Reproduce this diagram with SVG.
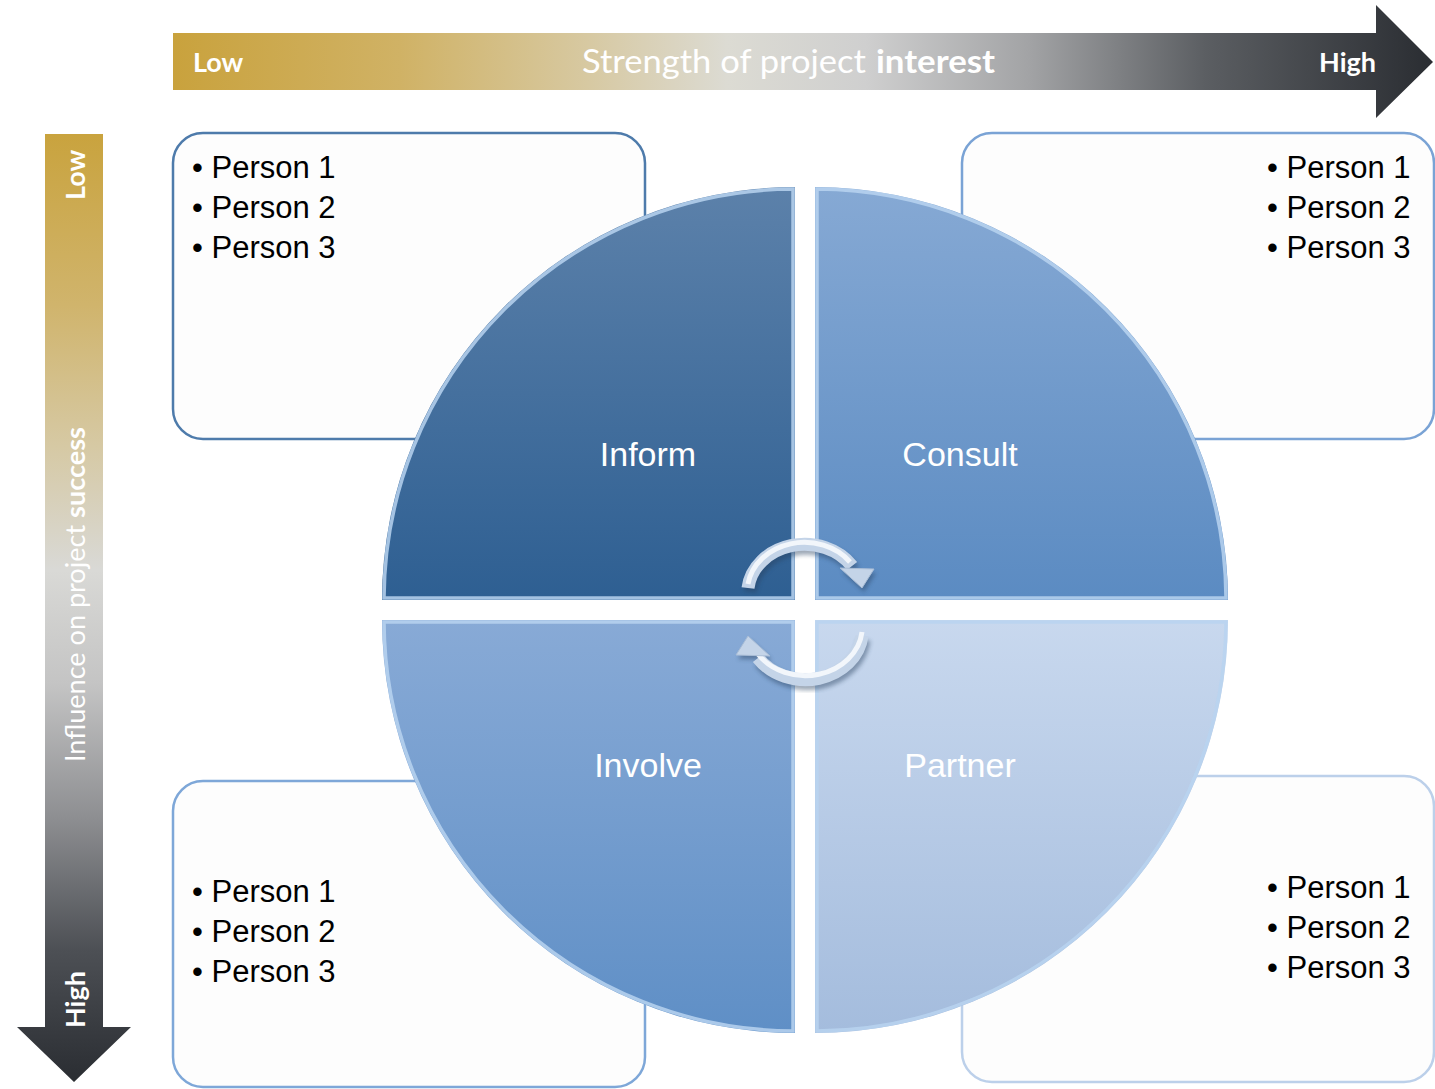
<svg xmlns="http://www.w3.org/2000/svg" width="1435" height="1089" viewBox="0 0 1435 1089">
  <defs>
    <linearGradient id="gradH" gradientUnits="userSpaceOnUse" x1="173" y1="0" x2="1433" y2="0">
      <stop offset="0" stop-color="#c9a23d"/>
      <stop offset="0.18" stop-color="#d0b265"/>
      <stop offset="0.33" stop-color="#d7c9a2"/>
      <stop offset="0.44" stop-color="#dcdbd3"/>
      <stop offset="0.55" stop-color="#cfcfcf"/>
      <stop offset="0.68" stop-color="#a2a3a5"/>
      <stop offset="0.82" stop-color="#5b5e62"/>
      <stop offset="1" stop-color="#2a2d32"/>
    </linearGradient>
    <linearGradient id="gradV" gradientUnits="userSpaceOnUse" x1="0" y1="134" x2="0" y2="1082">
      <stop offset="0" stop-color="#c9a33e"/>
      <stop offset="0.18" stop-color="#d0b46c"/>
      <stop offset="0.33" stop-color="#d6c9a4"/>
      <stop offset="0.46" stop-color="#d9d9d6"/>
      <stop offset="0.58" stop-color="#c4c4c4"/>
      <stop offset="0.72" stop-color="#8e8f92"/>
      <stop offset="0.86" stop-color="#4d5055"/>
      <stop offset="1" stop-color="#2a2d32"/>
    </linearGradient>
    <linearGradient id="gInform" x1="0" y1="0" x2="0" y2="1">
      <stop offset="0" stop-color="#5c81aa"/>
      <stop offset="1" stop-color="#2e5f92"/>
    </linearGradient>
    <linearGradient id="gConsult" x1="0" y1="0" x2="0" y2="1">
      <stop offset="0" stop-color="#86a9d4"/>
      <stop offset="1" stop-color="#5b8bc2"/>
    </linearGradient>
    <linearGradient id="gInvolve" x1="0" y1="0" x2="0" y2="1">
      <stop offset="0" stop-color="#88aad6"/>
      <stop offset="1" stop-color="#5f8fc6"/>
    </linearGradient>
    <linearGradient id="gPartner" x1="0" y1="0" x2="0" y2="1">
      <stop offset="0" stop-color="#c8d8ee"/>
      <stop offset="1" stop-color="#a4bcdd"/>
    </linearGradient>
    <filter id="soft" x="-20%" y="-20%" width="140%" height="140%">
      <feGaussianBlur stdDeviation="2"/>
    </filter>
  </defs>
  <style>
    .box { fill: #fdfdfd; stroke-width: 2.5; }
    .item { font-family: "Liberation Sans", Arial, sans-serif; font-size: 31px; fill: #000; }
    .quad { font-family: "Liberation Sans", Arial, sans-serif; font-size: 34px; fill: #ffffff; text-anchor: middle; }
    .axis { font-family: Lato, "Open Sans", sans-serif; fill: #ffffff; }
    .bold { font-weight: bold; }
    .bevel { fill: none; stroke: #b9d3f0; stroke-width: 3.5; stroke-opacity: 0.85; }
  </style>

  <!-- axis arrows -->
  <g id="axis-interest">
    <path d="M173,33 H1376 V5 L1433,62 L1376,118 V90 H173 Z" fill="url(#gradH)"/>
    <text class="axis bold" x="193" y="72" font-size="27">Low</text>
    <text class="axis" x="582" y="73" font-size="33" textLength="284" lengthAdjust="spacingAndGlyphs">Strength of project</text>
    <text class="axis bold" x="876" y="73" font-size="33" textLength="119" lengthAdjust="spacingAndGlyphs">interest</text>
    <text class="axis bold" x="1376" y="72" font-size="27" text-anchor="end">High</text>
  </g>
  <g id="axis-influence">
    <path d="M45,134 H103 V1027 H131 L74,1082 L17,1027 H45 Z" fill="url(#gradV)"/>
    <text class="axis bold" font-size="27" transform="translate(85,200) rotate(-90)">Low</text>
    <text class="axis" font-size="27" transform="translate(85,762) rotate(-90)" textLength="335" lengthAdjust="spacingAndGlyphs">Influence on project <tspan class="bold">success</tspan></text>
    <text class="axis bold" font-size="27" transform="translate(85,1028) rotate(-90)">High</text>
  </g>

  <!-- stakeholder boxes -->
  <g id="box-inform">
    <rect class="box" x="173" y="133" width="472" height="306" rx="30" stroke="#4e7bab"/>
    <text class="item" x="192" y="178">• Person 1</text>
    <text class="item" x="192" y="218">• Person 2</text>
    <text class="item" x="192" y="258">• Person 3</text>
  </g>
  <g id="box-consult">
    <rect class="box" x="962" y="133" width="472" height="306" rx="30" stroke="#7aa3d5"/>
    <text class="item" x="1267" y="178">• Person 1</text>
    <text class="item" x="1267" y="218">• Person 2</text>
    <text class="item" x="1267" y="258">• Person 3</text>
  </g>
  <g id="box-involve">
    <rect class="box" x="173" y="781" width="472" height="306" rx="30" stroke="#7ea7d8"/>
    <text class="item" x="192" y="902">• Person 1</text>
    <text class="item" x="192" y="942">• Person 2</text>
    <text class="item" x="192" y="982">• Person 3</text>
  </g>
  <g id="box-partner">
    <rect class="box" x="962" y="776" width="472" height="306" rx="30" stroke="#bcd0ea"/>
    <text class="item" x="1267" y="898">• Person 1</text>
    <text class="item" x="1267" y="938">• Person 2</text>
    <text class="item" x="1267" y="978">• Person 3</text>
  </g>

  <!-- quadrant circle -->
  <g id="q-inform">
    <path d="M795,600 H382 A413,413 0 0 1 795,187 Z" fill="url(#gInform)"/>
    <path class="bevel" d="M793,598 H384 A411,411 0 0 1 793,189 Z" stroke="#8fb2dc"/>
    <text class="quad" x="648" y="466">Inform</text>
  </g>
  <g id="q-consult">
    <path d="M815,600 V187 A413,413 0 0 1 1228,600 Z" fill="url(#gConsult)"/>
    <path class="bevel" d="M817,598 V189 A411,411 0 0 1 1226,598 Z"/>
    <text class="quad" x="960" y="466">Consult</text>
  </g>
  <g id="q-involve">
    <path d="M795,620 V1033 A413,413 0 0 1 382,620 Z" fill="url(#gInvolve)"/>
    <path class="bevel" d="M793,622 V1031 A411,411 0 0 1 384,622 Z"/>
    <text class="quad" x="648" y="777">Involve</text>
  </g>
  <g id="q-partner">
    <path d="M815,620 H1228 A413,413 0 0 1 815,1033 Z" fill="url(#gPartner)"/>
    <path class="bevel" d="M817,622 H1226 A411,411 0 0 1 817,1031 Z" stroke="#dde8f6"/>
    <text class="quad" x="960" y="777">Partner</text>
  </g>

  <!-- cycle arrows between quadrants -->
  <g id="connectors">
    <g id="cycle-top">
      <g transform="translate(2,4)" opacity="0.45" filter="url(#soft)">
        <path d="M748,588 A57,49 0 0 1 852,566" fill="none" stroke="#27415f" stroke-width="13"/>
        <polygon points="840,568 874,569 862,588" fill="#27415f"/>
      </g>
      <path d="M748,588 A57,49 0 0 1 852,566" fill="none" stroke="#c4d4e8" stroke-width="13"/>
      <path d="M748,584 A57,49 0 0 1 850,562" fill="none" stroke="#f2f6fb" stroke-width="5"/>
      <polygon points="840,568 874,569 862,588" fill="#c4d4e8" stroke="#a9bdd6" stroke-width="1"/>
    </g>
    <g id="cycle-bottom" transform="rotate(180 805 612)">
      <g transform="translate(-2,-4)" opacity="0.45" filter="url(#soft)">
        <path d="M748,588 A57,49 0 0 1 852,566" fill="none" stroke="#27415f" stroke-width="13"/>
        <polygon points="840,568 874,569 862,588" fill="#27415f"/>
      </g>
      <path d="M748,588 A57,49 0 0 1 852,566" fill="none" stroke="#c4d4e8" stroke-width="13"/>
      <path d="M748,592 A57,49 0 0 1 852,570" fill="none" stroke="#f2f6fb" stroke-width="5"/>
      <polygon points="840,568 874,569 862,588" fill="#c4d4e8" stroke="#a9bdd6" stroke-width="1"/>
    </g>
  </g>
</svg>
